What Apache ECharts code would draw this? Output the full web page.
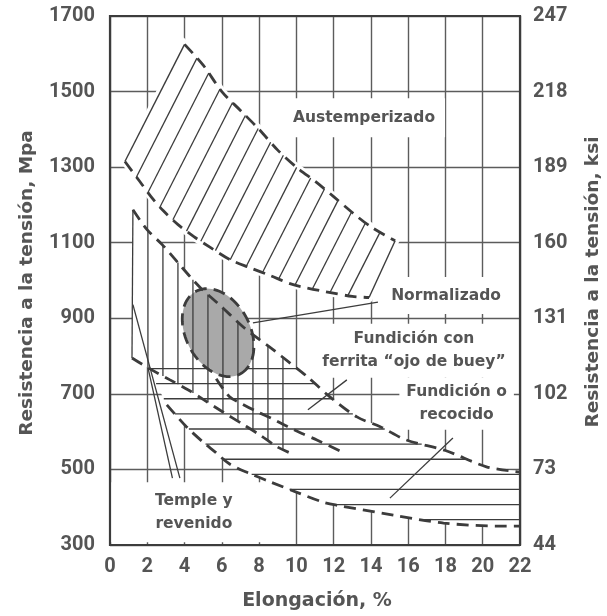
<!DOCTYPE html>
<html><head><meta charset="utf-8">
<script src="https://cdn.jsdelivr.net/npm/echarts@6/dist/echarts.min.js"></script>
<style>html,body{margin:0;padding:0;background:#fff}#c{width:607px;height:616px}</style>
</head><body><div id="c"></div>
<script>
// ---------- data ----------
const elongRange = [0, 22];
const mpaRange = [300, 1700];
const ksiTickLabels = ['44', '73', '102', '131', '160', '189', '218', '247'];

// Austemperizado band
const austemperUpper = [[4.0,1625],[5.0,1570],[6.0,1500],[7.0,1450],[8.0,1400],[9.0,1345],[10.0,1300],[11.1,1259],[12.0,1222],[13.0,1180],[14.0,1142],[15.3,1105]];
const austemperLower = [[0.8,1315],[1.6,1262],[2.2,1222],[2.85,1185],[3.65,1148],[4.5,1116],[5.4,1087],[6.45,1055],[7.5,1034],[8.6,1013],[9.7,991],[10.6,980],[11.6,970],[13.0,958],[13.9,955]];
// Temple y revenido upper limit (continues as upper limit of the cast/annealed field)
const templeUpper = [[1.23,1187],[2.0,1134],[2.8,1095],[3.6,1050],[4.3,1010],[4.85,981],[5.75,941],[6.45,909],[7.15,877],[7.9,848],[8.75,817],[9.65,782],[10.6,745],[11.8,692],[13.25,639],[14.5,613],[15.9,578],[18.0,550],[20.2,507],[22.0,493]];
// Temple y revenido lower limit
const templeLower = [[1.18,795],[2.04,769],[3.22,737],[4.18,711],[5.04,684],[6.06,652],[7.08,621],[8.05,591],[8.96,560],[9.93,538]];
// Ferrita "ojo de buey" lower limit
const ojoLower = [[5.7,740],[6.4,693],[7.1,673],[8.0,650],[8.6,637],[9.5,614],[10.3,595],[11.1,578],[12.5,545]];
// Fundición o recocido lower limit
const recocidoLower = [[3.05,671],[4.1,613],[5.0,572],[5.65,546],[6.4,515],[7.4,491],[8.6,467],[10.1,438],[11.4,414],[12.1,406],[15.2,379],[17.9,358],[20.9,350],[22.0,350]];
// Normalizado ellipse: centre (%, MPa), semi-major (MPa), semi-minor (%), tilt (deg)
const normalizadoEllipse = [5.8, 862, 124, 1.72, 28];
// leader lines
const templeLeaders = [[[1.23,936],[3.75,477]], [[2.04,769],[3.35,477]]];
const leaderNormalizado = [[14.38,943],[7.67,888]];
const leaderOjo = [[12.71,737],[10.62,658]];
const leaderRecocido = [[18.4,583],[15.02,424]];

const labelTexts = ['Austemperizado', 'Normalizado', 'Fundición con\nferrita “ojo de buey”', 'Fundición o\nrecocido', 'Temple y\nrevenido'];
const labelAnchors = [[13.63,1431],[18.03,960],[16.31,814],[18.6,674],[4.5,387]];

// ---------- styles ----------
const INK = '#3c3c3c';
const GRIDC = '#5c5c5c';
const TXT = '#555555';
const labelPads = [[8,10],[7,6],[4,8],[3,7],[7,45]];
const vHatchStep = 0.805;
const hHatchStep = 40;
const aHatchCount = 16;
const dash = [12, 7];

function clipLine(P, d, poly) {
  const ts = [];
  for (let i = 0; i < poly.length; i++) {
    const a = poly[i], b = poly[(i + 1) % poly.length];
    const e = [b[0] - a[0], b[1] - a[1]];
    const den = d[0] * e[1] - d[1] * e[0];
    if (Math.abs(den) < 1e-9) continue;
    const w = [a[0] - P[0], a[1] - P[1]];
    const t = (w[0] * e[1] - w[1] * e[0]) / den;
    const s = (w[0] * d[1] - w[1] * d[0]) / den;
    if (s >= 0 && s < 1) ts.push(t);
  }
  ts.sort((x, y) => x - y);
  const segs = [];
  for (let i = 0; i + 1 < ts.length; i += 2) {
    segs.push([[P[0] + ts[i] * d[0], P[1] + ts[i] * d[1]], [P[0] + ts[i + 1] * d[0], P[1] + ts[i + 1] * d[1]]]);
  }
  return segs;
}
function lineEl(p, q, w, color) {
  return {type: 'line', shape: {x1: p[0], y1: p[1], x2: q[0], y2: q[1]}, style: {stroke: color || INK, lineWidth: w || 1.3}};
}
const toPx = (api, arr) => arr.map(p => api.coord(p));

// white fills masking the grid
function renderFills(params, api) {
  const aPoly = toPx(api, austemperUpper.concat(austemperLower.slice().reverse()));
  const uPoly = toPx(api, templeUpper.concat(recocidoLower.slice().reverse(), [templeLower[1], templeLower[0]]));
  return {type: 'group', children: [
    {type: 'polygon', shape: {points: aPoly}, style: {fill: '#fff', stroke: '#fff', lineWidth: 8}},
    {type: 'polygon', shape: {points: uPoly}, style: {fill: '#fff'}}
  ]};
}
// horizontal hatching (fundición / recocido)
function renderHHatch(params, api) {
  const poly = toPx(api, templeUpper.concat(recocidoLower.slice().reverse(), [templeLower[1]]));
  const children = [];
  const minE = Math.min.apply(null, recocidoLower.map(p => p[1]));
  for (let v = templeLower[1][1] - 2; v > minE + 5; v -= hHatchStep) {
    const P = api.coord([0, v]);
    clipLine(P, [1, 0], poly).forEach(s => children.push(lineEl(s[0], s[1], 1.3)));
  }
  return {type: 'group', children};
}
// vertical hatching (temple y revenido) + diagonal hatching (austemperizado) + solid edges
function renderVHatch(params, api) {
  const children = [];
  const cUp = templeUpper.filter(p => p[0] <= 10.6);
  const vPoly = toPx(api, cUp.concat(templeLower.slice().reverse()));
  for (let k = 1; k <= 10; k++) {
    const x = templeUpper[0][0] + k * vHatchStep;
    const P = api.coord([x, mpaRange[0]]);
    clipLine(P, [0, -1], vPoly).forEach(s => children.push(lineEl(s[0], s[1], 1.3)));
  }
  children.push(lineEl(api.coord(templeUpper[0]), api.coord(templeLower[0]), 1.3));
  // austemper diagonal
  const aPoly = toPx(api, austemperUpper.concat(austemperLower.slice().reverse()));
  const A0 = api.coord(austemperUpper[0]), B0 = api.coord(austemperLower[0]);
  const Ae = api.coord(austemperUpper[austemperUpper.length - 1]), Be = api.coord(austemperLower[austemperLower.length - 1]);
  const d = [A0[0] - B0[0], A0[1] - B0[1]];
  const xr = Ae[0] + (B0[1] - Ae[1]) * d[0] / d[1];
  const h = (xr - B0[0]) / aHatchCount;
  for (let i = 1; i < aHatchCount; i++) {
    const P = [B0[0] + i * h, B0[1]];
    clipLine(P, d, aPoly).forEach(s => children.push(lineEl(s[0], s[1], 1.3)));
  }
  children.push(lineEl(A0, B0, 1.4));
  children.push(lineEl(Ae, Be, 1.4));
  return {type: 'group', children};
}
function ellipsePts(api) {
  const [cx, cy, aM, bE, tilt] = normalizadoEllipse;
  const c = api.coord([cx, cy]);
  const a = aM * api.size([0, 1])[1], b = bE * api.size([1, 0])[0];
  const th = tilt * Math.PI / 180;
  const pts = [];
  for (let k = 0; k < 90; k++) {
    const f = 2 * Math.PI * k / 90;
    pts.push([c[0] + a * Math.cos(f) * Math.sin(th) + b * Math.sin(f) * Math.cos(th),
              c[1] + a * Math.cos(f) * Math.cos(th) - b * Math.sin(f) * Math.sin(th)]);
  }
  return pts;
}
function renderEllipseFill(params, api) {
  return {type: 'polygon', shape: {points: ellipsePts(api)}, style: {fill: '#a9a9a9'}};
}
function renderEllipseEdge(params, api) {
  return {type: 'polygon', shape: {points: ellipsePts(api)}, style: {fill: 'none', stroke: INK, lineWidth: 2.8, lineDash: dash}};
}
function renderThin(params, api) {
  const segs = templeLeaders.concat([leaderNormalizado, leaderOjo, leaderRecocido]);
  return {type: 'group', children: segs.map(s => lineEl(api.coord(s[0]), api.coord(s[1]), 1.3))};
}
function renderFrame(params, api) {
  const p = api.coord([elongRange[0], mpaRange[1]]), q = api.coord([elongRange[1], mpaRange[0]]);
  return {type: 'rect', shape: {x: p[0], y: p[1], width: q[0] - p[0], height: q[1] - p[1]}, style: {fill: 'none', stroke: INK, lineWidth: 2.2}};
}
function renderLabels(params, api) {
  return {type: 'group', children: labelTexts.map((t, i) => {
    const c = api.coord(labelAnchors[i]);
    return {type: 'text', x: c[0], y: c[1], style: {
      text: t, fill: TXT, font: 'bold 15.5px "DejaVu Sans"', align: 'center', verticalAlign: 'middle',
      lineHeight: 23, backgroundColor: '#fff', padding: labelPads[i]
    }};
  })};
}
const one = [[0, 300]];
function custom(render, z) {
  return {type: 'custom', coordinateSystem: 'cartesian2d', data: one, renderItem: render, z: z, silent: true, clip: false};
}
function dashed(data, z) {
  return {type: 'line', data: data, smooth: 0.3, symbol: 'none', z: z || 6, silent: true,
    lineStyle: {color: INK, width: 2.8, type: dash, cap: 'butt'}};
}

const chart = echarts.init(document.getElementById('c'));
chart.setOption({
  animation: false,
  grid: {left: 110, right: 87, top: 16, bottom: 71},
  xAxis: {
    type: 'value', min: elongRange[0], max: elongRange[1], interval: 2,
    axisLine: {show: false}, axisTick: {show: false},
    axisLabel: {margin: 12, color: TXT, fontSize: 20, fontWeight: 'bold', fontFamily: 'Roboto', formatter: v => String(v)},
    splitLine: {show: true, lineStyle: {color: GRIDC, width: 1.4}}
  },
  yAxis: [{
    type: 'value', min: mpaRange[0], max: mpaRange[1], interval: 200, position: 'left',
    axisLine: {show: false}, axisTick: {show: false},
    axisLabel: {margin: 15, color: TXT, fontSize: 20, fontWeight: 'bold', fontFamily: 'Roboto', formatter: v => String(v)},
    splitLine: {show: true, lineStyle: {color: GRIDC, width: 1.4}}
  }, {
    type: 'value', min: mpaRange[0], max: mpaRange[1], interval: 200, position: 'right',
    axisLine: {show: false}, axisTick: {show: false}, splitLine: {show: false},
    axisLabel: {margin: 13, color: TXT, fontSize: 20, fontWeight: 'bold', fontFamily: 'Roboto',
      formatter: v => ksiTickLabels[Math.round((v - mpaRange[0]) / 200)]}
  }],
  graphic: [
    {type: 'text', x: 27, y: 283, rotation: Math.PI / 2, style: {text: 'Resistencia a la tensión, Mpa', fill: TXT, font: 'bold 18.5px "DejaVu Sans"', align: 'center', verticalAlign: 'middle'}},
    {type: 'text', x: 593, y: 282, rotation: Math.PI / 2, style: {text: 'Resistencia a la tensión, ksi', fill: TXT, font: 'bold 18.5px "DejaVu Sans"', align: 'center', verticalAlign: 'middle'}},
    {type: 'text', x: 317, y: 601, style: {text: 'Elongación, %', fill: TXT, font: 'bold 19px "DejaVu Sans"', align: 'center', verticalAlign: 'middle'}}
  ],
  series: [
    custom(renderLabels, 1),
    custom(renderFills, 2),
    custom(renderHHatch, 3),
    custom(renderEllipseFill, 4),
    custom(renderVHatch, 5),
    dashed(austemperUpper), dashed(austemperLower), dashed(templeUpper), dashed(templeLower),
    dashed(ojoLower), dashed(recocidoLower),
    custom(renderEllipseEdge, 7),
    custom(renderThin, 6),
    custom(renderFrame, 8)
  ]
});
</script></body></html>
